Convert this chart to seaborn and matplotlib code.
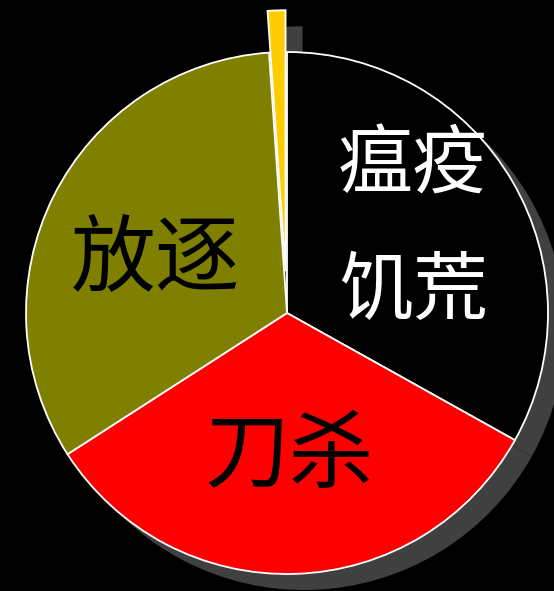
import matplotlib
matplotlib.use("Agg")
import matplotlib.pyplot as plt
import seaborn as sns

# ---- data ----
categories = ["瘟疫饥荒", "刀杀", "放逐", "其他"]
values = [33.1, 32.8, 33.0, 1.1]
colors = ["#000000", "#FF0000", "#808000", "#FFCC00"]
explode_frac = [0, 0, 0, 0.16]

sns.set_style("dark")
plt.rcParams["font.family"] = ["Noto Sans CJK SC", "DejaVu Sans"]

W, H = 554, 591
fig = plt.figure(figsize=(W / 100, H / 100), dpi=100, facecolor="black")
ax = fig.add_axes([0, 0, 1, 1])
ax.set_facecolor("black")

cx, cy, r = 287, 278, 261
sx, sy = 17, -16
explode = [e * r for e in explode_frac]  # matplotlib explode is in data units

# shadow
ax.pie(values, colors=["#404040"] * len(values), explode=explode,
       startangle=90, counterclock=False, center=(cx + sx, cy + sy), radius=r,
       wedgeprops=dict(linewidth=0))
# main pie
ax.pie(values, colors=colors, explode=explode,
       startangle=90, counterclock=False, center=(cx, cy), radius=r,
       wedgeprops=dict(edgecolor="white", linewidth=1.3))

ax.set_xlim(0, W)
ax.set_ylim(0, H)
ax.set_aspect("auto")
ax.axis("off")

ax.text(413, 425, "瘟疫", color="white", fontsize=54, ha="center", va="center")
ax.text(413, 299, "饥荒", color="white", fontsize=54, ha="center", va="center")
ax.text(156, 330, "放逐", color="black", fontsize=61, ha="center", va="center")
ax.text(289, 134, "刀杀", color="black", fontsize=61, ha="center", va="center")

fig.savefig("out.png", dpi=100, facecolor="black")
